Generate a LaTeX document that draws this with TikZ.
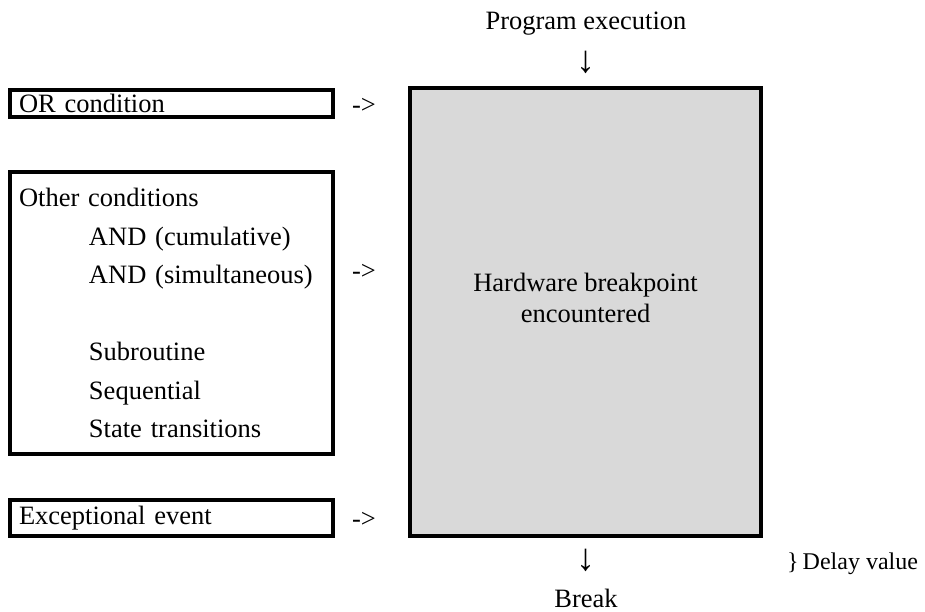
\documentclass[tikz,border=0pt]{standalone}
\usepackage{fontspec}
\setmainfont{Liberation Serif}
\usepackage{xcolor}
\usepackage{tikz}
\usetikzlibrary{positioning}
\definecolor{hwgray}{RGB}{217,217,217}

\begin{document}
\begin{tikzpicture}[x=1pt, y=-1pt, every node/.style={font=\fontsize{26.5}{38.5}\selectfont},
  condbox/.style={draw, line width=4pt, text width=305pt, inner xsep=9pt, inner ysep=1pt, align=left},
  hwbox/.style={draw, line width=4pt, fill=hwgray, minimum width=351pt, minimum height=448pt},
  downarr/.style={font=\fontsize{38}{38}\selectfont}]
  \useasboundingbox (0,0) rectangle (925,611);
  \node[condbox, minimum height=27pt] (orc) at (171.5,103.5) {OR condition};
  \node[condbox, minimum height=282pt] (other) at (171.5,313) {Other conditions\\
    \hspace*{70pt}AND (cumulative)\\
    \hspace*{70pt}AND (simultaneous)\\[38.5pt]
    \hspace*{70pt}Subroutine\\
    \hspace*{70pt}Sequential\\
    \hspace*{70pt}State transitions};
  \node[condbox, minimum height=36pt] (exc) at (171.5,518) {Exceptional event};
  \node[hwbox] (hw) at (585.5,312) {};
  \node[align=center, font=\fontsize{26.5}{31}\selectfont] (hwtext) at (585.5,298) {Hardware breakpoint\\encountered};
  \node (arr1) at (364,106) {->};
  \node (arr2) at (364,272) {->};
  \node (arr3) at (364,520) {->};
  \node (prog) at (586,24) {Program execution};
  \node[downarr] (down1) at (586,62) {↓};
  \node[downarr] (down2) at (586,560) {↓};
  \node (brk) at (586,598) {Break};
  \node[anchor=west, inner xsep=0pt, font=\fontsize{24}{30}\selectfont] (delay) at (787,564) {\}\hspace{4pt}Delay value};
\end{tikzpicture}
\end{document}
